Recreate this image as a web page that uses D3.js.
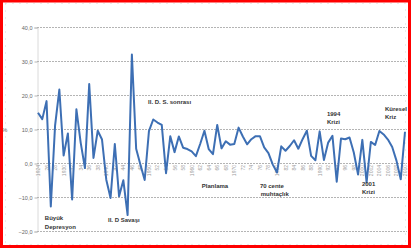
<!DOCTYPE html>
<html>
<head>
<meta charset="utf-8">
<script src="https://cdn.jsdelivr.net/npm/d3@7"></script>
<style>
    html, body { margin: 0; padding: 0; background: white; }
    svg { display: block; }
</style>
</head>
<body>
<svg id="chart" width="411" height="248"></svg>
<script>
(function () {
    // yearly growth, %
    var years = [
        1924, 1925, 1926, 1927, 1928, 1929, 1930, 1931, 1932, 1933,
        1934, 1935, 1936, 1937, 1938, 1939, 1940, 1941, 1942, 1943,
        1944, 1945, 1946, 1947, 1948, 1949, 1950, 1951, 1952, 1953,
        1954, 1955, 1956, 1957, 1958, 1959, 1960, 1961, 1962, 1963,
        1964, 1965, 1966, 1967, 1968, 1969, 1970, 1971, 1972, 1973,
        1974, 1975, 1976, 1977, 1978, 1979, 1980, 1981, 1982, 1983,
        1984, 1985, 1986, 1987, 1988, 1989, 1990, 1991, 1992, 1993,
        1994, 1995, 1996, 1997, 1998, 1999, 2000, 2001, 2002, 2003,
        2004, 2005, 2006, 2007, 2008, 2009, 2010
    ];
    var growth = [
        14.8, 12.9, 18.2, -12.8, 11.0, 21.6, 2.2, 8.7, -10.7, 15.8,
        6.0, -1.5, 23.2, 1.5, 9.5, 6.9, -4.9, -10.3, 5.6, -9.8,
        -5.1, -15.3, 31.9, 4.2, -0.5, -5.0, 9.4, 12.8, 11.9, 11.2,
        -3.0, 7.9, 3.2, 7.8, 4.5, 4.1, 3.4, 2.0, 5.6, 9.5,
        4.1, 2.6, 11.2, 4.3, 6.4, 5.4, 5.6, 10.4, 7.8, 5.5,
        7.0, 7.9, 7.9, 4.6, 2.9, -0.4, -2.8, 4.9, 3.6, 5.0,
        6.7, 4.2, 7.0, 9.5, 2.1, 0.8, 9.3, 0.9, 6.0, 8.0,
        -5.5, 7.2, 7.0, 7.5, 3.1, -3.4, 6.8, -5.7, 6.2, 5.3,
        9.4, 8.4, 6.9, 4.7, 0.7, -4.8, 9.2
    ];
    var yTicks = [ -20, -10, 0, 10, 20, 30, 40 ];

    // notes placed in (year, value) units
    var notes = [
        { t: "Büyük", x: 1925.6, v: -16.8 },
        { t: "Depresyon", x: 1925.6, v: -19.4 },
        { t: "II. D Savaşı", x: 1940.4, v: -17.4 },
        { t: "II. D. S. sonrası", x: 1949.8, v: 17.4 },
        { t: "Planlama", x: 1962.4, v: -7.4 },
        { t: "70 cente", x: 1976.0, v: -7.4 },
        { t: "muhtaçlık", x: 1976.2, v: -9.7 },
        { t: "1994", x: 1991.7, v: 13.8 },
        { t: "Krizi", x: 1991.7, v: 11.5 },
        { t: "2001", x: 1999.9, v: -6.8 },
        { t: "Krizi", x: 1999.9, v: -9.1 },
        { t: "Küresel", x: 2005.3, v: 15.3 },
        { t: "Kriz", x: 2005.3, v: 12.9 }
    ];

    var data = years.map( function ( y, i ) { return { year: y, v: growth[ i ] } } );

    var svg = d3.select( "#chart" );
    var W = 411, H = 248;

    var x = d3.scaleLinear().domain( [ 1924, 2010 ] ).range( [ 38, 405 ] );
    var y = d3.scaleLinear().domain( [ -20, 40 ] ).range( [ 231, 27 ] );
    var fmt = function ( d ) { return d3.format( ".1f" )( d ).replace( ".", "," ) };

    // faint outer frame of the plot
    svg.append( "rect" )
        .attr( "x", 5.5 ).attr( "y", 3.5 )
        .attr( "width", 400 ).attr( "height", 241 )
        .style( "fill", "none" )
        .style( "stroke", "#d8d8d8" )
        .style( "stroke-dasharray", "1,6" );

    // grid
    svg.append( "g" ).selectAll( "line" )
        .data( yTicks )
        .enter().append( "line" )
        .attr( "x1", 37 ).attr( "x2", 407 )
        .attr( "y1", function ( d ) { return Math.round( y( d ) ) + .5 } )
        .attr( "y2", function ( d ) { return Math.round( y( d ) ) + .5 } )
        .style( "stroke", "#b4b4b4" )
        .style( "stroke-dasharray", "2,1" );

    // y axis
    var yAxis = d3.axisLeft( y ).tickValues( yTicks ).tickFormat( fmt ).tickSize( 3 ).tickPadding( 2 );
    var ya = svg.append( "g" ).attr( "transform", "translate(37.5,0.5)" ).call( yAxis );
    ya.select( ".domain" ).style( "stroke", "#b4b4b4" ).style( "stroke-dasharray", "1,1" );
    ya.selectAll( ".tick line" ).style( "stroke", "#b4b4b4" );
    ya.selectAll( "text" )
        .style( "font", "5.5px 'Liberation Sans', sans-serif" )
        .style( "fill", "#666" );

    svg.append( "text" )
        .attr( "x", 2 ).attr( "y", 132 )
        .style( "font", "6px 'Liberation Sans', sans-serif" )
        .style( "fill", "#666" )
        .text( "%" );

    // year labels, every other year, rotated under the zero line
    var labelYears = years.filter( function ( d, i ) { return i % 2 === 0 } );
    svg.append( "g" ).selectAll( "text" )
        .data( labelYears )
        .enter().append( "text" )
        .attr( "transform", function ( d ) {
            return "translate(" + ( x( d ) + 2 ) + "," + ( y( 0 ) + 2 ) + ") rotate(-90)";
        })
        .attr( "text-anchor", "end" )
        .style( "font", "5px 'Liberation Sans', sans-serif" )
        .style( "fill", "#a0a0a0" )
        .text( function ( d, i ) {
            return ( i === 0 || d % 10 === 0 || d >= 2000 ) ? d : String( d ).slice( 2 );
        });

    // series
    var line = d3.line()
        .x( function ( d ) { return x( d.year ) } )
        .y( function ( d ) { return y( d.v ) } );

    svg.append( "path" )
        .datum( data )
        .attr( "d", line )
        .style( "fill", "none" )
        .style( "stroke", "#3d6fb4" )
        .style( "stroke-width", 2 )
        .style( "stroke-linejoin", "round" );

    // notes
    svg.append( "g" ).selectAll( "text" )
        .data( notes )
        .enter().append( "text" )
        .attr( "x", function ( d ) { return x( d.x ) } )
        .attr( "y", function ( d ) { return y( d.v ) } )
        .style( "font", "bold 6px 'Liberation Sans', sans-serif" )
        .style( "fill", "#333" )
        .text( function ( d ) { return d.t } );

    // red frame
    svg.append( "rect" )
        .attr( "x", 1.5 ).attr( "y", 1 )
        .attr( "width", W - 3 ).attr( "height", H - 2.5 )
        .style( "fill", "none" )
        .style( "stroke", "#ff0000" )
        .style( "stroke-width", 3 );
})();
</script>
</body>
</html>
